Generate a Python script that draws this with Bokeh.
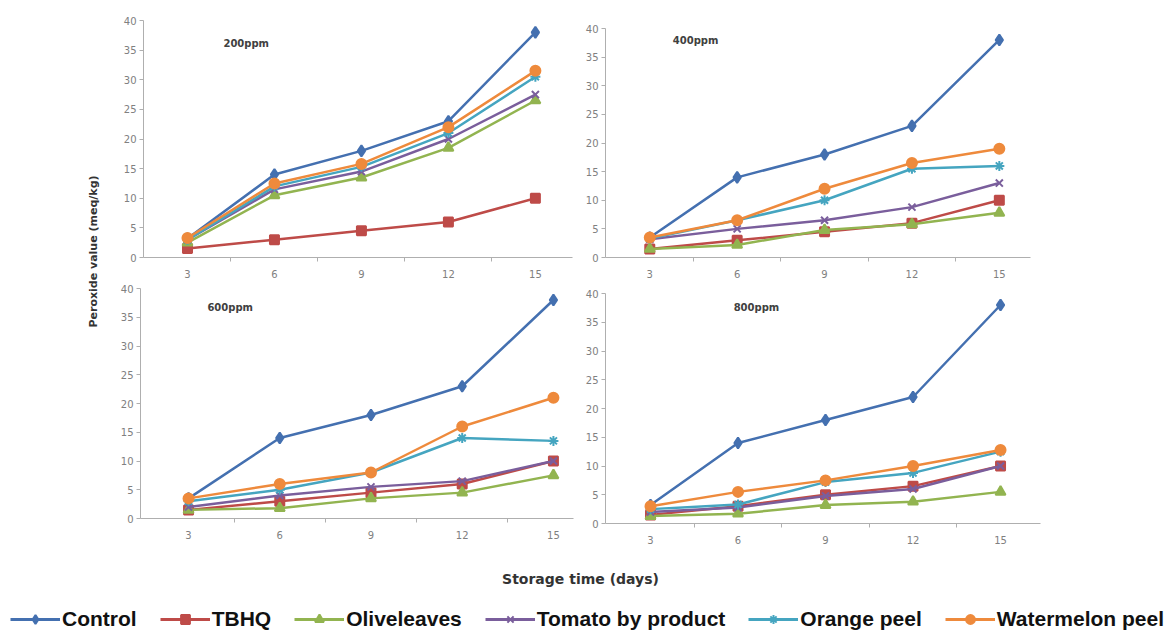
from bokeh.plotting import figure
from bokeh.models import (Range1d, FixedTicker, Label, Legend, LegendItem,
                          ColumnDataSource, Spacer)
from bokeh.layouts import row, column
from bokeh.embed import file_html
from bokeh.resources import INLINE

# ---------------- data ----------------
days = [3, 6, 9, 12, 15]
series_names = ["Control", "TBHQ", "Oliveleaves", "Tomato by product",
                "Orange peel", "Watermelon peel"]

control_200 = [3.2, 14.0, 18.0, 23.0, 38.0]
tbhq_200 = [1.5, 3.0, 4.5, 6.0, 10.0]
olive_200 = [2.5, 10.5, 13.5, 18.5, 26.5]
tomato_200 = [3.0, 11.5, 14.5, 20.0, 27.5]
orange_200 = [3.0, 12.0, 15.3, 21.0, 30.5]
water_200 = [3.3, 12.5, 15.8, 22.0, 31.5]

control_400 = [3.5, 14.0, 18.0, 23.0, 38.0]
tbhq_400 = [1.5, 3.0, 4.5, 6.0, 10.0]
olive_400 = [1.5, 2.2, 4.8, 5.8, 7.8]
tomato_400 = [3.2, 5.0, 6.5, 8.8, 13.0]
orange_400 = [3.3, 6.5, 10.0, 15.5, 16.0]
water_400 = [3.5, 6.5, 12.0, 16.5, 19.0]

control_600 = [3.5, 14.0, 18.0, 23.0, 38.0]
tbhq_600 = [1.5, 3.0, 4.5, 6.0, 10.0]
olive_600 = [1.5, 1.8, 3.5, 4.5, 7.5]
tomato_600 = [2.0, 4.0, 5.5, 6.5, 10.0]
orange_600 = [3.0, 5.0, 8.0, 14.0, 13.5]
water_600 = [3.5, 6.0, 8.0, 16.0, 21.0]

control_800 = [3.2, 14.0, 18.0, 22.0, 38.0]
tbhq_800 = [1.5, 3.0, 5.0, 6.5, 10.0]
olive_800 = [1.3, 1.7, 3.2, 3.8, 5.5]
tomato_800 = [2.0, 2.8, 4.8, 6.0, 10.0]
orange_800 = [2.5, 3.3, 7.2, 8.8, 12.5]
water_800 = [3.0, 5.5, 7.5, 10.0, 12.8]

panel_titles = ["200ppm", "400ppm", "600ppm", "800ppm"]
y_ticks = [0, 5, 10, 15, 20, 25, 30, 35, 40]

colors = ["#4470B0", "#BE4B48", "#92B450", "#7A5E9C", "#45A5C0", "#EE8A3C"]
markers = ["diamond", "square", "triangle", "x", "asterisk", "circle"]
msizes = [11, 9, 10, 10, 10, 10]

FONT = "DejaVu Sans"
AXIS_COLOR = "#AFAFAF"
TICK_COLOR = "#808080"


def make_panel(values, title, width, height, border, xr, title_pos):
    bl, br, bt, bb = border
    p = figure(width=width, height=height, output_backend="svg", title=None,
               toolbar_location=None, x_range=Range1d(*xr),
               y_range=Range1d(0, 40), min_border_left=bl,
               min_border_right=br, min_border_top=bt, min_border_bottom=bb)
    p.outline_line_color = None
    p.grid.visible = False
    p.background_fill_color = "white"
    p.border_fill_color = "white"

    xa = p.xaxis[0]
    xa.ticker = FixedTicker(ticks=days, minor_ticks=[4.5, 7.5, 10.5, 13.5])
    xa.major_tick_line_color = None
    xa.major_tick_in = 0
    xa.major_tick_out = 0
    xa.minor_tick_in = 0
    xa.minor_tick_out = 4
    xa.minor_tick_line_color = AXIS_COLOR
    xa.axis_line_color = AXIS_COLOR
    xa.major_label_text_font = FONT
    xa.major_label_text_font_size = "10px"
    xa.major_label_text_color = TICK_COLOR
    xa.major_label_standoff = 8

    ya = p.yaxis[0]
    ya.ticker = FixedTicker(ticks=y_ticks, minor_ticks=[])
    ya.major_tick_in = 0
    ya.major_tick_out = 4
    ya.major_tick_line_color = AXIS_COLOR
    ya.axis_line_color = AXIS_COLOR
    ya.major_label_text_font = FONT
    ya.major_label_text_font_size = "10px"
    ya.major_label_text_color = TICK_COLOR
    ya.major_label_standoff = 3

    for vals, c, m, s in zip(values, colors, markers, msizes):
        src = ColumnDataSource(dict(x=days, y=vals))
        p.line("x", "y", source=src, line_color=c, line_width=2.5)
        p.scatter("x", "y", source=src, marker=m, size=s, fill_color=c,
                  line_color=c, line_width=2)

    p.add_layout(Label(x=title_pos[0], y=title_pos[1], text=title,
                       text_font=FONT, text_font_size="10px",
                       text_font_style="bold", text_color="#404040",
                       text_align="left", text_baseline="middle"))
    return p


p1 = make_panel([control_200, tbhq_200, olive_200, tomato_200, orange_200,
                 water_200], panel_titles[0], 472, 283, (35, 8, 20, 26),
                (1.483, 16.28), (4.24, 36.1))
p2 = make_panel([control_400, tbhq_400, olive_400, tomato_400, orange_400,
                 water_400], panel_titles[1], 470, 275, (25, 20, 20, 26),
                (1.48, 16.07), (3.79, 37.9))
p3 = make_panel([control_600, tbhq_600, olive_600, tomato_600, orange_600,
                 water_600], panel_titles[2], 472, 261, (32, 7, 5, 26),
                (1.42, 15.66), (3.62, 36.7))
p4 = make_panel([control_800, tbhq_800, olive_800, tomato_800, orange_800,
                 water_800], panel_titles[3], 470, 261, (25, 10, 5, 26),
                (1.457, 16.37), (5.85, 37.6))

# ---- y label strip ----
strip = figure(width=108, height=549, output_backend="svg", title=None,
               toolbar_location=None, x_range=Range1d(0, 108),
               y_range=Range1d(0, 549), x_axis_location=None,
               y_axis_location=None, min_border=0)
strip.outline_line_color = None
strip.grid.visible = False
strip.add_layout(Label(x=93, y=298, text="Peroxide value (meq/kg)",
                       angle=1.5707963, text_font=FONT, text_font_size="11px",
                       text_font_style="bold", text_color="#333333",
                       text_align="center", text_baseline="middle"))

# ---- bottom: x label + legend (legend glyphs use real series, kept off-frame) ----
bottom = figure(width=1170, height=82, output_backend="svg", title=None,
                toolbar_location=None, x_range=Range1d(0, 1170),
                y_range=Range1d(100, 182), x_axis_location=None,
                y_axis_location=None, min_border=0)
bottom.outline_line_color = None
bottom.grid.visible = False
bottom.add_layout(Label(x=580, y=153, text="Storage time (days)",
                        text_font=FONT, text_font_size="14px",
                        text_font_style="bold", text_color="#333333",
                        text_align="center", text_baseline="middle"))

legend_vals = [control_200, tbhq_200, olive_200, tomato_200, orange_200,
               water_200]
items = []
for name, vals, c, m, s in zip(series_names, legend_vals, colors, markers,
                               msizes):
    src = ColumnDataSource(dict(x=days, y=vals))
    r1 = bottom.line("x", "y", source=src, line_color=c, line_width=3)
    r2 = bottom.scatter("x", "y", source=src, marker=m, size=s,
                        fill_color=c, line_color=c, line_width=2)
    items.append(LegendItem(label=name, renderers=[r1, r2]))

legend = Legend(items=items, orientation="horizontal", location=(10, 0),
                glyph_width=50, glyph_height=22, label_standoff=2,
                spacing=23, padding=0, margin=0, border_line_color=None,
                background_fill_alpha=0, label_text_font="Liberation Sans",
                label_text_font_size="21px", label_text_font_style="bold",
                label_text_color="#111111", label_height=22)
bottom.add_layout(legend, "center")

top_row = row(p1, column(Spacer(height=8), p2))
bottom_row = row(p3, column(Spacer(height=5), p4))
layout = column(row(strip, column(top_row, bottom_row)), bottom)

open("out.html", "w").write(file_html(layout, INLINE))
